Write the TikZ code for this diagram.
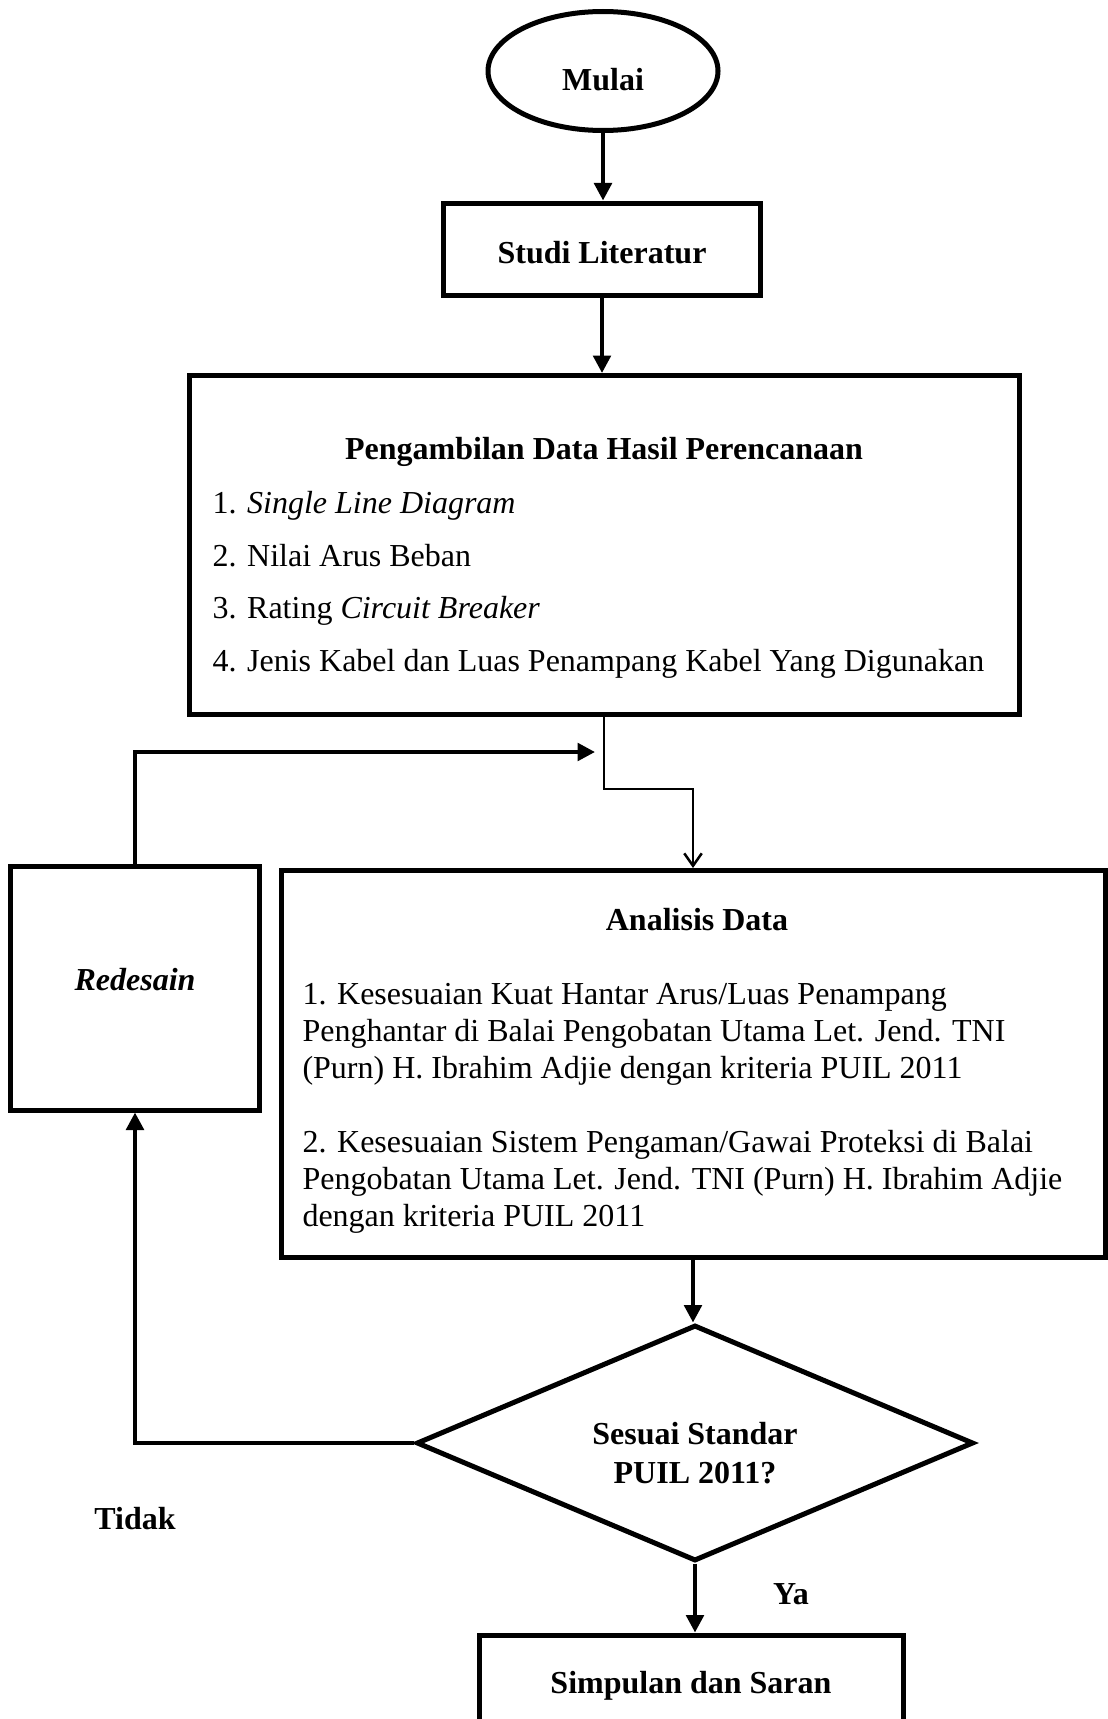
\documentclass[tikz,border=0pt]{standalone}
\usepackage{fontspec}
\setmainfont{Liberation Serif}
\usetikzlibrary{shapes.geometric,arrows.meta}
\AtBeginDocument{\fontsize{12.8}{14.8}\selectfont}
\newcommand{\pxs}{0.4pt}
\newcommand{\geser}[2]{\raisebox{#1}[\height][\depth]{#2}}
\tikzset{
    box/.style={draw, line width=2pt, rectangle, inner sep=0pt},
    flow/.style={line width=1.6pt, -{Triangle[length=7pt,width=7pt]}},
    thinflow/.style={line width=1pt, -{Straight Barb[length=5pt,width=7pt]}},
}
\begin{document}
\begin{tikzpicture}[x=0.4pt,y=-0.4pt]
            \useasboundingbox (0,0) rectangle (1107,1719);
            \node[box, ellipse, minimum width=230*\pxs, minimum height=119*\pxs, font=\bfseries] (mulai) at (603,71) {\geser{-3.5pt}{Mulai}};
            \node[box, minimum width=317*\pxs, minimum height=92*\pxs, font=\bfseries] (studi) at (602,249) {\geser{-1.3pt}{Studi Literatur}};
            \node[box, minimum width=830*\pxs, minimum height=339*\pxs] (ambil) at (604,545) {};
            \node[font=\bfseries] (ambilt) at (604,452) {Pengambilan Data Hasil Perencanaan};
            \node[anchor=base west, inner sep=0pt] (ambil1) at (212,513) {1. \textit{Single Line Diagram}};
            \node[anchor=base west, inner sep=0pt] (ambil2) at (212,566) {2. Nilai Arus Beban};
            \node[anchor=base west, inner sep=0pt] (ambil3) at (212,618) {3. Rating \textit{Circuit Breaker}};
            \node[anchor=base west, inner sep=0pt] (ambil4) at (212,671) {4. Jenis Kabel dan Luas Penampang Kabel Yang Digunakan};
            \node[box, minimum width=824*\pxs, minimum height=387*\pxs] (analisis) at (693,1064) {};
            \node[font=\bfseries] (analisist) at (697,920) {Analisis Data};
            \node[anchor=base west, inner sep=0pt, align=left] (analisis1) at (302,1078)
                {1. Kesesuaian Kuat Hantar Arus/Luas Penampang\\Penghantar di Balai Pengobatan Utama Let. Jend. TNI\\(Purn) H. Ibrahim Adjie dengan kriteria PUIL 2011};
            \node[anchor=base west, inner sep=0pt, align=left] (analisis2) at (302,1226)
                {2. Kesesuaian Sistem Pengaman/Gawai Proteksi di Balai\\Pengobatan Utama Let. Jend. TNI (Purn) H. Ibrahim Adjie\\dengan kriteria PUIL 2011};
            \node[box, minimum width=249*\pxs, minimum height=244*\pxs, font=\bfseries\itshape] (redesain) at (135,988) {\geser{3.5pt}{Redesain}};
            \node[box, diamond, minimum width=557*\pxs, minimum height=236*\pxs] (putusan) at (695,1443) {};
            \node[align=center, font=\bfseries\fontsize{12.8}{15.8}\selectfont] (putusant) at (695,1453) {Sesuai Standar\\PUIL 2011?};
            \node[box, minimum width=424*\pxs, minimum height=96*\pxs, font=\bfseries] (simpulan) at (691,1683) {\geser{-1.3pt}{Simpulan dan Saran}};
            \node[font=\bfseries] (tidak) at (135,1519) {Tidak};
            \node[font=\bfseries] (ya) at (791,1594) {Ya};
            \coordinate (knik) at (604,789);
            \coordinate (balik) at (595,752);
            \draw[flow] (mulai.south) -- (mulai.south |- studi.north);
            \draw[flow] (studi.south) -- (studi.south |- ambil.north);
            \draw[thinflow] (ambil.south) -- (knik) -| (analisis.north);
            \draw[flow] (redesain.north) |- (balik);
            \draw[flow] (analisis.south) -- (analisis.south |- putusan.north);
            \draw[flow] (putusan.west) -| (redesain.south);
            \draw[flow] (putusan.south) -- (putusan.south |- simpulan.north);
\end{tikzpicture}
\end{document}
